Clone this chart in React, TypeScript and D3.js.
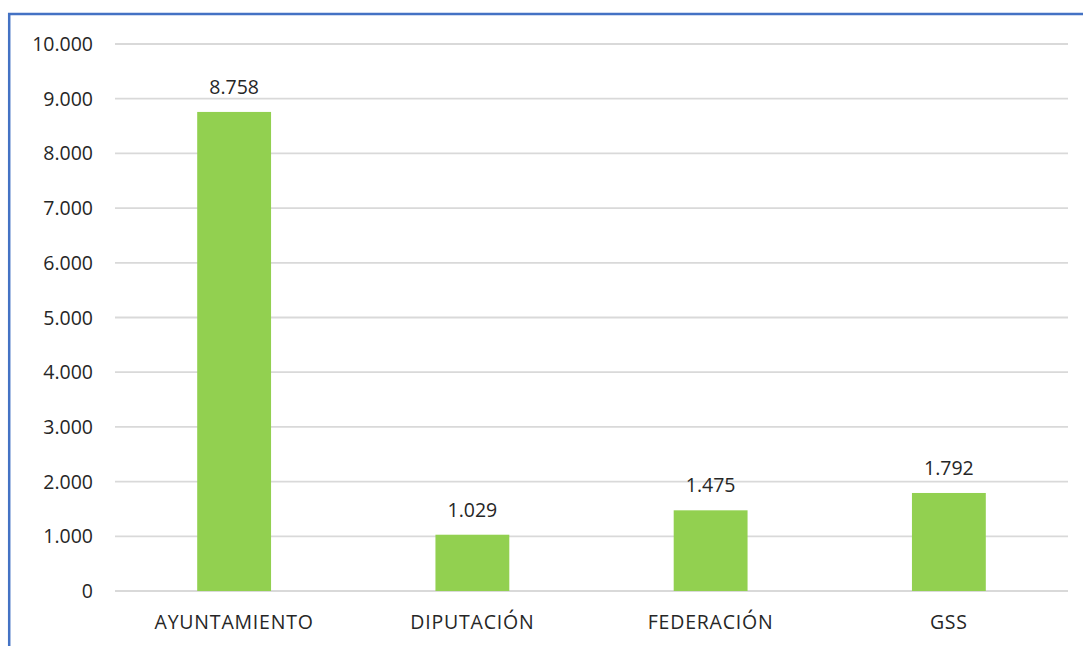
import React from "react";
import * as d3 from "d3";

const categories = ["AYUNTAMIENTO", "DIPUTACIÓN", "FEDERACIÓN", "GSS"];
const values = [8758, 1029, 1475, 1792];
const yTicks = [0, 1000, 2000, 3000, 4000, 5000, 6000, 7000, 8000, 9000, 10000];

const W = 1083;
const H = 646;
const fmt = (v: number) => d3.format(",")(v).replace(/,/g, ".");

export default function App() {
  const left = 115, right = 1068, top = 44, bottom = 591;
  const x = d3.scaleBand<string>().domain(categories).range([left, right]).padding(0);
  const y = d3.scaleLinear().domain([0, 10000]).range([bottom, top]);
  const barW = x.bandwidth() * 0.31;
  const font = "'Open Sans', sans-serif";
  const col = "#262626";
  return (
    <svg width={W} height={H} style={{ position: "absolute", left: 0, top: 0, background: "#fff" }}>
      <rect x={0} y={0} width={W} height={H} fill="#fff" />
      <line x1={8} x2={W} y1={14} y2={14} stroke="#4472C4" strokeWidth={2.5} />
      <line x1={9.2} x2={9.2} y1={13} y2={H} stroke="#4472C4" strokeWidth={2.5} />
      {yTicks.map((t) => (
        <g key={t}>
          <line x1={left} x2={right} y1={y(t)} y2={y(t)} stroke="#D9D9D9" strokeWidth={1.8} />
          <text x={93} y={y(t)} dy="0.36em" textAnchor="end" fontFamily={font} fontSize={19.5} fill={col}>
            {fmt(t)}
          </text>
        </g>
      ))}
      {categories.map((c, i) => {
        const cx = (x(c) as number) + x.bandwidth() / 2;
        return (
          <g key={c}>
            <rect x={cx - barW / 2} y={y(values[i])} width={barW} height={bottom - y(values[i])} fill="#92D050" />
            <text x={cx} y={y(values[i]) - 18} textAnchor="middle" fontFamily={font} fontSize={19.5} fill={col}>
              {fmt(values[i])}
            </text>
            <text x={cx} y={622} dy="0.36em" textAnchor="middle" fontFamily={font} fontSize={19.5} letterSpacing={0.8} fill={col}>
              {c}
            </text>
          </g>
        );
      })}
    </svg>
  );
}
